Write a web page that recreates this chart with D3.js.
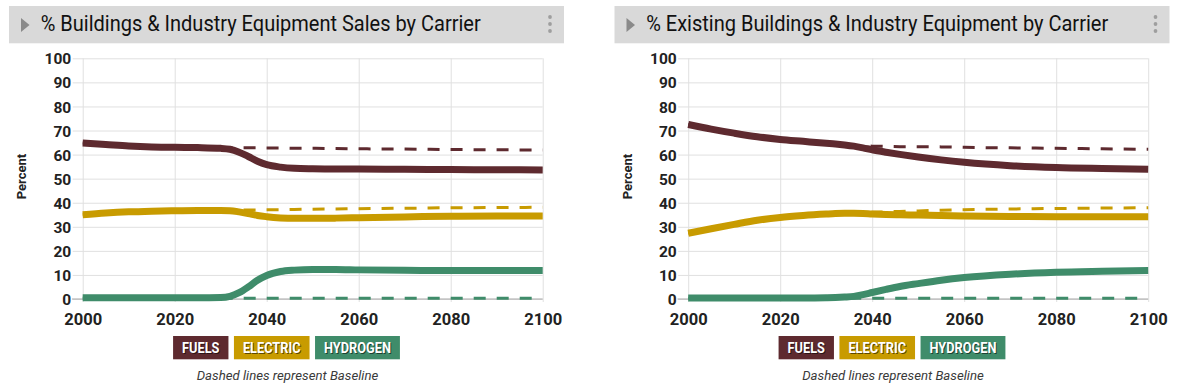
<!DOCTYPE html>
<html><head><meta charset="utf-8">
<script src="https://cdn.jsdelivr.net/npm/d3@7"></script>
<style>
html,body{margin:0;padding:0;background:#fff;}
svg{display:block;font-family:Roboto,"Noto Sans",sans-serif;}
</style></head>
<body>
<svg id="chart" width="1185" height="386"></svg>
<script>
const years = [2000,2005,2010,2015,2020,2025,2030,2032,2034,2036,2038,2040,2043,2046,2050,2055,2060,2070,2080,2090,2100];

const salesFuels      = [64.8,64.2,63.6,63.2,63.0,62.9,62.6,62.2,61.0,59.2,57.2,55.8,54.8,54.3,54.1,54.0,54.0,53.9,53.8,53.7,53.6];
const salesElectric   = [35.0,35.7,36.2,36.5,36.7,36.8,36.8,36.7,36.2,35.5,34.7,34.2,33.7,33.5,33.5,33.6,33.8,34.1,34.4,34.5,34.5];
const salesHydrogen   = [0.5,0.5,0.5,0.5,0.5,0.5,0.6,1.1,2.6,5.0,7.8,9.8,11.4,12.0,12.3,12.3,12.1,11.9,11.8,11.8,11.8];
const salesBaseFuels    = [64.8,64.2,63.6,63.2,63.0,62.9,62.8,62.8,62.8,62.8,62.8,62.7,62.7,62.6,62.6,62.5,62.4,62.3,62.1,62.0,61.9];
const salesBaseElectric = [35.0,35.7,36.2,36.5,36.7,36.8,36.9,36.9,37.0,37.0,37.0,37.1,37.1,37.2,37.3,37.4,37.5,37.7,37.9,38.0,38.1];
const salesBaseHydrogen = [0.3,0.3,0.3,0.3,0.3,0.3,0.3,0.3,0.3,0.3,0.3,0.3,0.3,0.3,0.3,0.3,0.3,0.3,0.3,0.3,0.3];

const stockFuels      = [72.5,70.6,68.9,67.4,66.3,65.5,64.7,64.4,64.0,63.5,62.8,62.0,61.0,60.1,59.0,57.8,56.8,55.4,54.6,54.2,53.9];
const stockElectric   = [27.3,29.2,31.0,32.7,33.9,34.7,35.3,35.5,35.6,35.6,35.5,35.3,35.1,35.0,34.9,34.7,34.5,34.3,34.2,34.2,34.2];
const stockHydrogen   = [0.4,0.4,0.4,0.4,0.4,0.4,0.5,0.6,0.8,1.1,1.8,2.7,4.0,5.2,6.4,7.8,8.9,10.3,11.1,11.5,11.8];
const stockBaseFuels    = [72.5,70.6,68.9,67.4,66.3,65.5,64.7,64.4,64.1,63.8,63.6,63.5,63.4,63.3,63.3,63.2,63.0,62.8,62.6,62.4,62.2];
const stockBaseElectric = [27.3,29.2,31.0,32.7,33.9,34.7,35.3,35.5,35.7,35.8,35.9,36.0,36.2,36.4,36.6,36.9,37.1,37.4,37.6,37.8,37.9];
const stockBaseHydrogen = [0.3,0.3,0.3,0.3,0.3,0.3,0.3,0.3,0.3,0.3,0.3,0.3,0.3,0.3,0.3,0.3,0.3,0.3,0.3,0.3,0.3];

const carriers = ["FUELS","ELECTRIC","HYDROGEN"];
const xTicks = [2000,2020,2040,2060,2080,2100];
const yTicks = [0,10,20,30,40,50,60,70,80,90,100];
const titles = ["% Buildings & Industry Equipment Sales by Carrier","% Existing Buildings & Industry Equipment by Carrier"];
const yLabel = "Percent";
const caption = "Dashed lines represent Baseline";

const colors = {FUELS:"#5e2a2f", ELECTRIC:"#c89b00", HYDROGEN:"#3f8c6a"};

const panels = [
  {title:titles[0], titleLen:440, dx:0,
   scen:[salesFuels,salesElectric,salesHydrogen], base:[salesBaseFuels,salesBaseElectric,salesBaseHydrogen]},
  {title:titles[1], titleLen:462, dx:605.5,
   scen:[stockFuels,stockElectric,stockHydrogen], base:[stockBaseFuels,stockBaseElectric,stockBaseHydrogen]}
];

const svg = d3.select("#chart");

panels.forEach(p => {
  const g = svg.append("g").attr("transform", `translate(${p.dx},0)`);
  // header
  g.append("rect").attr("x",9).attr("y",6).attr("width",555).attr("height",37.3).attr("fill","#d9d9d9");
  g.append("path").attr("d","M21,18 L29.5,25 L21,32 Z").attr("fill","#8a8a8a");
  g.append("text").attr("x",40.7).attr("y",31.3).attr("font-size",22).attr("fill","#111")
    .attr("textLength",p.titleLen).attr("lengthAdjust","spacingAndGlyphs").text(p.title);
  [17,24,31].forEach(cy => g.append("circle").attr("cx",550).attr("cy",cy).attr("r",1.9).attr("fill","#9e9e9e"));

  const x = d3.scaleLinear().domain([2000,2100]).range([82.7,542.7]);
  const y = d3.scaleLinear().domain([0,100]).range([299,58.3]);

  const gy = g.append("g").attr("transform","translate(82.7,0)")
    .call(d3.axisLeft(y).tickValues(yTicks).tickSize(-(542.7-82.7)).tickPadding(12).tickSizeOuter(0));
  gy.select(".domain").remove();
  gy.selectAll(".tick line").attr("stroke","#e0e0e0").attr("stroke-width",1).attr("x1",-10);
  gy.selectAll(".tick text").attr("font-family","Roboto").attr("font-weight","bold").attr("font-size",15.5).attr("fill","#222")
    .attr("dy","0.36em").attr("x",-11.5);

  const gx = g.append("g").attr("transform","translate(0,299)")
    .call(d3.axisBottom(x).tickValues(xTicks).tickFormat(d3.format("d")).tickSize(-(299-58.3)).tickPadding(14).tickSizeOuter(0));
  gx.select(".domain").remove();
  gx.selectAll(".tick line").attr("stroke","#e0e0e0").attr("stroke-width",1).attr("y1",3);
  gx.selectAll(".tick text").attr("font-family","Roboto").attr("font-weight","bold").attr("font-size",16.5).attr("fill","#222")
    .attr("dy","0.71em").attr("y",14);

  g.append("line").attr("x1",72).attr("x2",542.7).attr("y1",y(0)).attr("y2",y(0)).attr("stroke","#a8a8a8").attr("stroke-width",1.2);

  g.append("text").attr("transform",`translate(26,176.5) rotate(-90)`).attr("text-anchor","middle")
    .attr("font-weight","bold").attr("font-size",13).attr("fill","#222").text(yLabel);

  const line = d3.line().x((d,i)=>x(years[i])).y(d=>y(d)).curve(d3.curveMonotoneX);
  p.base.forEach((arr,k) => {
    g.append("path").attr("d",line(arr)).attr("fill","none").attr("stroke",colors[carriers[k]])
      .attr("stroke-width",3).attr("stroke-dasharray","12,11");
  });
  p.scen.forEach((arr,k) => {
    g.append("path").attr("d",line(arr)).attr("fill","none").attr("stroke",colors[carriers[k]])
      .attr("stroke-width",7).attr("stroke-linejoin","round");
  });

  // legend
  const lg = g.append("g");
  const pad = 9, gap = 5.5, fs = 14.5, squeeze = 0.88;
  const items = carriers.map(c => {
    const t = lg.append("text").attr("font-weight","bold").attr("font-size",fs).text(c);
    const w = t.node().getComputedTextLength() * squeeze; t.remove();
    return {c, w: w + 2*pad, tw:w};
  });
  const total = d3.sum(items,d=>d.w) + gap*(items.length-1);
  let cx = 286.5 - total/2;
  items.forEach(it => {
    lg.append("rect").attr("x",cx).attr("y",336).attr("width",it.w).attr("height",23.3).attr("fill",colors[it.c]);
    lg.append("text").attr("x",cx+pad+1).attr("y",353.2+1).attr("font-weight","bold")
      .attr("font-size",fs).attr("fill","rgba(0,0,0,0.55)")
      .attr("textLength",it.tw).attr("lengthAdjust","spacingAndGlyphs").text(it.c);
    lg.append("text").attr("x",cx+pad).attr("y",353.2).attr("font-weight","bold")
      .attr("font-size",fs).attr("fill","#fff")
      .attr("textLength",it.tw).attr("lengthAdjust","spacingAndGlyphs").text(it.c);
    cx += it.w + gap;
  });
  g.append("text").attr("x",287.5).attr("y",379.5).attr("text-anchor","middle").attr("font-style","italic")
    .attr("font-size",13.2).attr("fill","#3a3a3a").text(caption);
});
</script>
</body></html>
